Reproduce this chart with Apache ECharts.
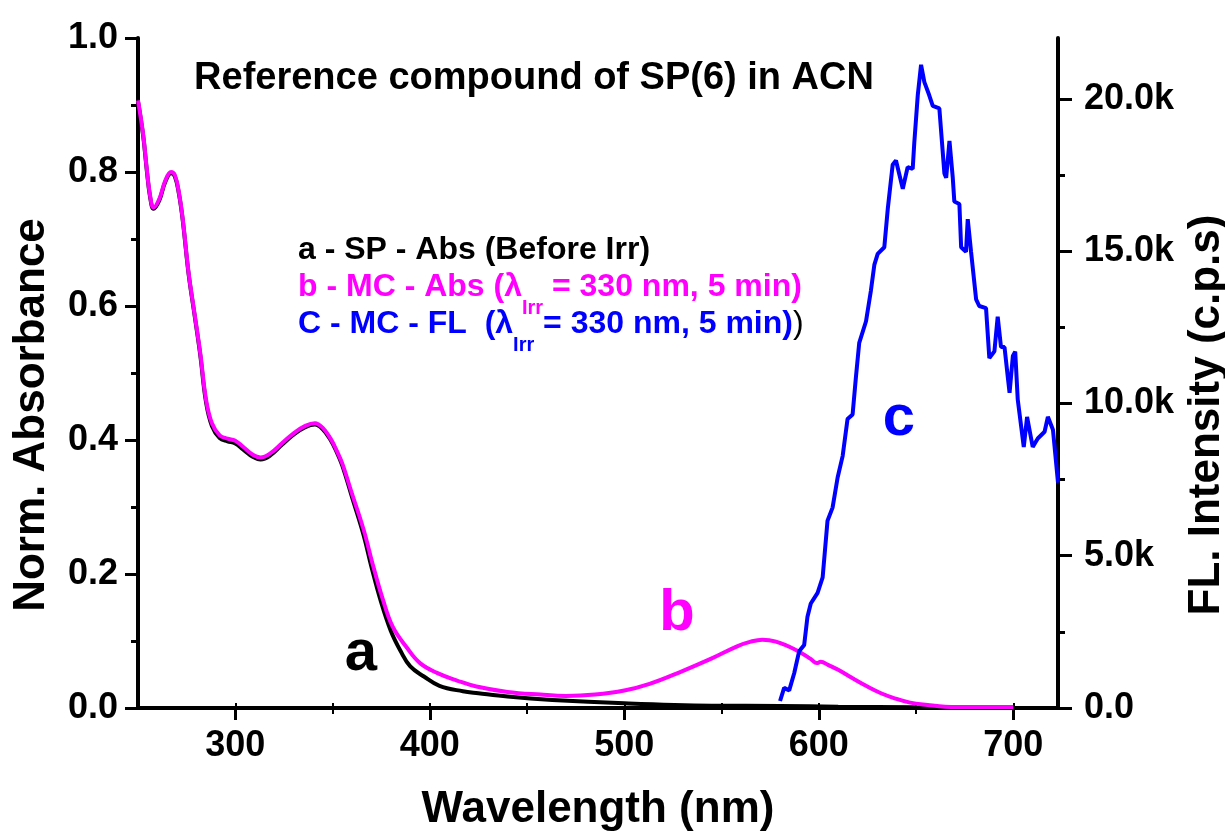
<!DOCTYPE html>
<html>
<head>
<meta charset="utf-8">
<script src="https://cdn.jsdelivr.net/npm/echarts@6/dist/echarts.min.js"></script>
<style>
html,body{margin:0;padding:0;background:#fff;}
#chart{width:1225px;height:836px;}
</style>
</head>
<body>
<div id="chart"></div>
<script>
// ---- data ----
// a - SP - Abs (Before Irr)
const wlA = [250,252.7,254.5,256.2,258,261,264,267,269,271,273,276,279,282,285,288,292,296,300,304,309,313,318,324,330,336,341,345,349,352,355,360,366,370,375,380,385,390,397,405,417,425,440,463,500,545,580,610,650,700];
const absA = [0.905,0.853,0.803,0.763,0.745,0.758,0.785,0.798,0.793,0.768,0.728,0.648,0.588,0.527,0.456,0.421,0.403,0.398,0.395,0.386,0.375,0.371,0.377,0.393,0.408,0.419,0.423,0.416,0.4,0.383,0.362,0.315,0.258,0.211,0.158,0.115,0.085,0.062,0.047,0.033,0.025,0.022,0.017,0.012,0.007,0.0035,0.003,0.002,0.001,0.0];
// b - MC - Abs
const wlB = [250,252.7,254.5,256.2,258,261,264,267,269,271,273,276,279,282,285,288,292,296,300,304,309,313,318,324,330,336,341,345,349,352,355,360,366,371,376,381,388,395,404,414,424,440,457,470,485,500,513,529,545,558,565,571,578,588,596,599,601,605,610,617,625,632,639,647,656,665,680,700];
const absB = [0.907,0.855,0.805,0.765,0.747,0.76,0.787,0.8,0.795,0.77,0.73,0.65,0.59,0.53,0.46,0.425,0.407,0.402,0.399,0.39,0.378,0.374,0.38,0.395,0.41,0.421,0.425,0.418,0.402,0.385,0.365,0.32,0.266,0.211,0.161,0.121,0.091,0.067,0.052,0.041,0.032,0.024,0.02,0.018,0.02,0.026,0.036,0.054,0.074,0.092,0.099,0.102,0.099,0.087,0.073,0.067,0.069,0.064,0.057,0.045,0.032,0.022,0.0145,0.008,0.0045,0.002,0.0015,0.0015];
// c - MC - FL (counts per second)
const wlC = [580.1,582.2,584.8,587.4,589.9,592.5,594.2,595.9,599.4,602,604.5,607.1,609.7,612.3,614.8,617.4,619.1,620.8,624.3,626.8,628.6,630.3,633.7,635.5,638,639.7,643.2,645.7,648.3,649.1,650.9,652.6,654.3,656.8,658.6,662,664.6,665.5,667.2,668.9,669.7,672.3,673.2,675.7,676.6,678.3,680.9,682.5,686,687.7,690.3,692,693.7,695.5,697.2,698.1,699.8,701,702.3,705.4,707.1,710,712.6,716.1,717.8,720.4,723];
const flC = [230,660,580,1150,1860,2070,3000,3430,3780,4290,6150,6580,7570,8280,9490,9640,10860,11990,12700,13700,14560,14910,15130,16400,17840,17980,17050,17760,17700,18550,20120,21120,20550,20120,19770,19690,17550,17410,18620,17410,16630,16550,15130,14980,16050,14980,13420,13200,13130,11490,11710,12850,11850,11850,10860,10350,11560,11700,10130,8570,9560,8570,8850,9070,9560,9140,7400];

// ---- axis ticks ----
const xMajorTicks = [300,400,500,600,700];
const xMinorTicks = [350,450,550,650];
const xTopTicks = [300,350,400,450,500,550,600,650,700];
const yRightMajor = [0,5000,10000,15000,20000];
const yRightMinor = [2500,7500,12500,17500];

const FONT = '"Liberation Sans", Arial, Helvetica, sans-serif';
const zip = (xs, ys) => xs.map((x, i) => [x, ys[i]]);

const chart = echarts.init(document.getElementById('chart'), null, {renderer: 'canvas'});

const baseX = {type: 'value', min: 250, max: 723, splitLine: {show: false}};
const option = {
  backgroundColor: '#fff',
  animation: false,
  grid: {left: 138, right: 167, top: 38, bottom: 128, show: false, containLabel: false, outerBoundsMode: 'none'},
  xAxis: [
    Object.assign({}, baseX, {
      position: 'bottom',
      name: 'Wavelength (nm)', nameLocation: 'middle', nameGap: 80,
      nameTextStyle: {fontFamily: FONT, fontWeight: 'bold', fontSize: 44, color: '#000'},
      axisLine: {show: true, lineStyle: {color: '#000', width: 4}},
      axisTick: {show: true, customValues: xMajorTicks, length: 12, lineStyle: {color: '#000', width: 3}},
      axisLabel: {show: true, customValues: xMajorTicks, margin: 20, fontFamily: FONT, fontWeight: 'bold', fontSize: 36, color: '#000'}
    }),
    Object.assign({}, baseX, {
      position: 'bottom',
      axisLine: {show: false},
      axisTick: {show: true, customValues: xMinorTicks, length: 6, lineStyle: {color: '#000', width: 2}},
      axisLabel: {show: false}
    }),
    Object.assign({}, baseX, {
      position: 'top',
      axisLine: {show: true, lineStyle: {color: '#000', width: 3}},
      axisTick: {show: true, customValues: xTopTicks, length: 5, lineStyle: {color: '#000', width: 2}},
      axisLabel: {show: false}
    })
  ],
  yAxis: [
    {
      type: 'value', position: 'left', min: 0, max: 1, interval: 0.2,
      name: 'Norm. Absorbance', nameLocation: 'middle', nameGap: 84, nameRotate: 90,
      nameTextStyle: {fontFamily: FONT, fontWeight: 'bold', fontSize: 44, color: '#000', padding: [0, 84, 0, 0]},
      axisLine: {show: true, lineStyle: {color: '#000', width: 4}},
      axisTick: {show: true, length: 13, lineStyle: {color: '#000', width: 3}},
      minorTick: {show: true, splitNumber: 2, length: 7, lineStyle: {color: '#000', width: 3}},
      axisLabel: {margin: 20, fontFamily: FONT, fontWeight: 'bold', fontSize: 36, color: '#000',
        formatter: v => v.toFixed(1)},
      splitLine: {show: false}, minorSplitLine: {show: false}
    },
    {
      type: 'value', position: 'right', min: 0, max: 22000,
      name: 'FL. Intensity (c.p.s)', nameLocation: 'middle', nameGap: 116, nameRotate: 90,
      nameTextStyle: {fontFamily: FONT, fontWeight: 'bold', fontSize: 44, color: '#000', padding: [0, 84, 0, 0]},
      axisLine: {show: true, lineStyle: {color: '#000', width: 4}},
      axisTick: {show: true, customValues: yRightMajor, length: 14, lineStyle: {color: '#000', width: 3}},
      axisLabel: {customValues: yRightMajor, margin: 26, fontFamily: FONT, fontWeight: 'bold', fontSize: 36, color: '#000',
        formatter: v => v === 0 ? '0.0' : (v / 1000).toFixed(1) + 'k'},
      splitLine: {show: false}
    },
    {
      type: 'value', position: 'right', min: 0, max: 22000,
      axisLine: {show: false},
      axisTick: {show: true, customValues: yRightMinor, length: 7, lineStyle: {color: '#000', width: 3}},
      axisLabel: {show: false},
      splitLine: {show: false}
    }
  ],
  series: [
    {name: 'a', type: 'line', xAxisIndex: 0, yAxisIndex: 0, data: zip(wlA, absA), showSymbol: false,
     smooth: 0.4, lineStyle: {color: '#000', width: 4}, z: 2},
    {name: 'b', type: 'line', xAxisIndex: 0, yAxisIndex: 0, data: zip(wlB, absB), showSymbol: false,
     smooth: 0.4, lineStyle: {color: '#ff00ff', width: 4}, z: 3},
    {name: 'c', type: 'line', xAxisIndex: 0, yAxisIndex: 1, data: zip(wlC, flC), showSymbol: false,
     lineStyle: {color: '#0000ff', width: 4}, z: 4}
  ],
  graphic: [
    {type: 'text', x: 534, y: 79, z: 10, style: {text: 'Reference compound of SP(6) in ACN',
      font: 'bold 38px ' + FONT, fill: '#000', align: 'center', verticalAlign: 'middle'}},
    {type: 'text', x: 298, y: 250, z: 10, style: {text: 'a - SP - Abs (Before Irr)',
      font: 'bold 32px ' + FONT, fill: '#000', align: 'left', verticalAlign: 'middle'}},
    {type: 'text', x: 298, y: 287, z: 10, style: {
      text: '{m|b - MC - Abs (λ}{s|Irr}{m| = 330 nm, 5 min)}',
      align: 'left', verticalAlign: 'middle',
      rich: {
        m: {font: 'bold 32px ' + FONT, fill: '#ff00ff', lineHeight: 62},
        s: {font: 'bold 20px ' + FONT, fill: '#ff00ff', lineHeight: 22, verticalAlign: 'bottom'}
      }}},
    {type: 'text', x: 298, y: 324, z: 10, style: {
      text: '{m|C - MC - FL  (λ}{s|Irr}{m| = 330 nm, 5 min)}{k|)}',
      align: 'left', verticalAlign: 'middle',
      rich: {
        m: {font: 'bold 32px ' + FONT, fill: '#0000ff', lineHeight: 62},
        s: {font: 'bold 20px ' + FONT, fill: '#0000ff', lineHeight: 22, verticalAlign: 'bottom'},
        k: {font: '32px ' + FONT, fill: '#000', lineHeight: 62}
      }}},
    {type: 'text', x: 361, y: 654, z: 10, style: {text: 'a', font: 'bold 58px ' + FONT, fill: '#000', align: 'center', verticalAlign: 'middle'}},
    {type: 'text', x: 677, y: 614, z: 10, style: {text: 'b', font: 'bold 58px ' + FONT, fill: '#ff00ff', align: 'center', verticalAlign: 'middle'}},
    {type: 'text', x: 899, y: 419, z: 10, style: {text: 'c', font: 'bold 58px ' + FONT, fill: '#0000ff', align: 'center', verticalAlign: 'middle'}}
  ]
};
chart.setOption(option);
</script>
</body>
</html>
